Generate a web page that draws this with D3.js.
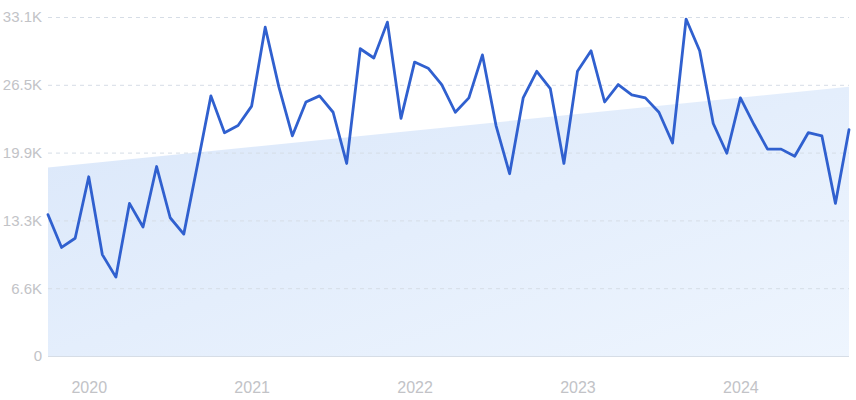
<!DOCTYPE html>
<html>
<head>
<meta charset="utf-8">
<script src="https://cdn.jsdelivr.net/npm/d3@7"></script>
<style>
  html, body { margin: 0; padding: 0; background: #fff; }
  svg { display: block; font-family: Inter, "Noto Sans", sans-serif; }
</style>
</head>
<body>
<svg id="chart" width="856" height="400"></svg>
<script>
// Monthly values, Oct 2019 – Sep 2024
const values = [
  13800, 10600, 11500, 17500, 9900, 7700, 14900, 12600, 18500, 13500,
  11900, 18600, 25400, 21800, 22500, 24400, 32100, 26300, 21500, 24800,
  25400, 23800, 18800, 30000, 29100, 32600, 23200, 28700, 28100, 26500,
  23800, 25200, 29400, 22500, 17800, 25200, 27800, 26100, 18800, 27800,
  29800, 24800, 26500, 25500, 25200, 23800, 20800, 32900, 29800, 22700,
  19800, 25200, 22600, 20200, 20200, 19500, 21800, 21500, 14900, 22100
];
const trend = [18400, 26300];            // start / end of trend band
const yTicks = [0, 6620, 13240, 19860, 26480, 33100];
const yTickLabels = ["0", "6.6K", "13.3K", "19.9K", "26.5K", "33.1K"];
const xTickIndex = [3, 15, 27, 39, 51];
const xTickLabels = ["2020", "2021", "2022", "2023", "2024"];

const svg = d3.select("#chart");
const mLeft = 48, mRight = 849, mTop = 17, mBottom = 356;

const x = d3.scaleLinear().domain([0, values.length - 1]).range([mLeft, mRight]);
const y = d3.scaleLinear().domain([0, 33100]).range([mBottom, mTop]);

const defs = svg.append("defs");
const grad = defs.append("linearGradient").attr("id", "tg")
  .attr("x1", "0%").attr("y1", "0%").attr("x2", "100%").attr("y2", "100%");
grad.append("stop").attr("offset", "0%").attr("stop-color", "#dae7fa");
grad.append("stop").attr("offset", "100%").attr("stop-color", "#eef5fe");

// trend band
const trendPts = [[0, trend[0]], [values.length - 1, trend[1]]];
svg.append("path")
  .attr("d", d3.area().x(d => x(d[0])).y0(y(0)).y1(d => y(d[1]))(trendPts))
  .attr("fill", "url(#tg)");

// grid
const yAxis = d3.axisLeft(y).tickValues(yTicks).tickFormat((d, i) => yTickLabels[i])
  .tickSize(-(mRight - mLeft)).tickPadding(6);
const gy = svg.append("g").attr("transform", `translate(${mLeft},0)`).call(yAxis);
gy.select(".domain").remove();
gy.selectAll(".tick line")
  .attr("stroke", "#d6dde6")
  .attr("stroke-dasharray", d => d === 0 ? null : "4,4");
gy.selectAll(".tick text")
  .attr("fill", "#c2c3c7").attr("font-size", 15);

// x axis labels
const xAxis = d3.axisBottom(x).tickValues(xTickIndex).tickFormat((d, i) => xTickLabels[i])
  .tickSize(0).tickPadding(26);
const gx = svg.append("g").attr("transform", `translate(0,${mBottom})`).call(xAxis);
gx.select(".domain").remove();
gx.selectAll(".tick text").attr("fill", "#c2c3c7").attr("font-size", 16);

// line
svg.append("path")
  .datum(values)
  .attr("d", d3.line().x((d, i) => x(i)).y(d => y(d)))
  .attr("fill", "none")
  .attr("stroke", "#3060cf")
  .attr("stroke-width", 2.8)
  .attr("stroke-linejoin", "round")
  .attr("stroke-linecap", "round");
</script>
</body>
</html>
